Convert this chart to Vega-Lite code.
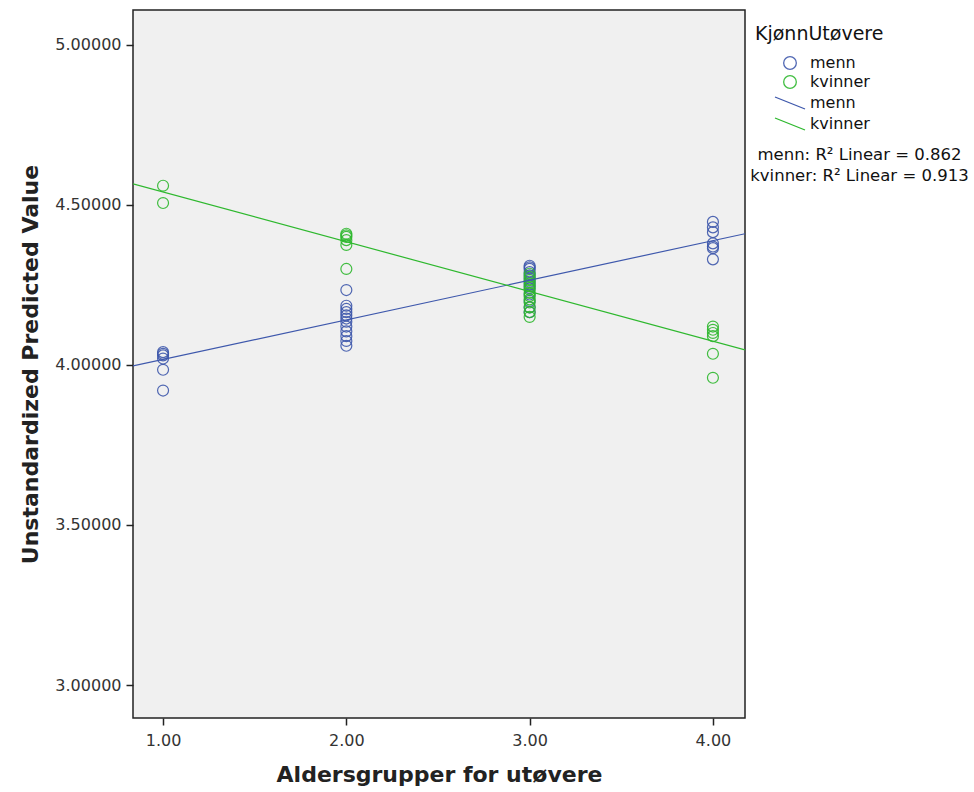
{
  "$schema": "https://vega.github.io/schema/vega-lite/v6.json",
  "width": 612,
  "height": 708,
  "autosize": {"type": "none"},
  "padding": {"left": 133, "top": 10, "right": 229, "bottom": 74},
  "background": "white",
  "config": {
    "font": "DejaVu Sans",
    "view": {"fill": "#F0F0F0", "stroke": "#222222", "strokeWidth": 1.5},
    "axis": {
      "grid": false,
      "domain": false,
      "tickColor": "#222222",
      "tickSize": 7,
      "tickWidth": 1.5,
      "labelColor": "#333333",
      "labelFontSize": 16,
      "labelFont": "DejaVu Sans",
      "titleFont": "DejaVu Sans",
      "titleFontSize": 22,
      "titleFontWeight": "bold",
      "titleColor": "#222222"
    },
    "legend": {
      "labelFont": "DejaVu Sans",
      "titleFont": "DejaVu Sans",
      "labelFontSize": 16,
      "labelColor": "#111111",
      "titleFontSize": 19,
      "titleFontWeight": "normal",
      "titleColor": "#111111"
    }
  },
  "datasets": {
    "points": [
      {"alder": 1, "verdi": 4.040, "kjonn": "menn"},
      {"alder": 1, "verdi": 4.035, "kjonn": "menn"},
      {"alder": 1, "verdi": 4.030, "kjonn": "menn"},
      {"alder": 1, "verdi": 4.020, "kjonn": "menn"},
      {"alder": 1, "verdi": 3.985, "kjonn": "menn"},
      {"alder": 1, "verdi": 3.920, "kjonn": "menn"},
      {"alder": 1, "verdi": 4.560, "kjonn": "kvinner"},
      {"alder": 1, "verdi": 4.506, "kjonn": "kvinner"},
      {"alder": 2, "verdi": 4.234, "kjonn": "menn"},
      {"alder": 2, "verdi": 4.185, "kjonn": "menn"},
      {"alder": 2, "verdi": 4.175, "kjonn": "menn"},
      {"alder": 2, "verdi": 4.165, "kjonn": "menn"},
      {"alder": 2, "verdi": 4.155, "kjonn": "menn"},
      {"alder": 2, "verdi": 4.145, "kjonn": "menn"},
      {"alder": 2, "verdi": 4.135, "kjonn": "menn"},
      {"alder": 2, "verdi": 4.120, "kjonn": "menn"},
      {"alder": 2, "verdi": 4.105, "kjonn": "menn"},
      {"alder": 2, "verdi": 4.090, "kjonn": "menn"},
      {"alder": 2, "verdi": 4.075, "kjonn": "menn"},
      {"alder": 2, "verdi": 4.060, "kjonn": "menn"},
      {"alder": 2, "verdi": 4.410, "kjonn": "kvinner"},
      {"alder": 2, "verdi": 4.405, "kjonn": "kvinner"},
      {"alder": 2, "verdi": 4.400, "kjonn": "kvinner"},
      {"alder": 2, "verdi": 4.390, "kjonn": "kvinner"},
      {"alder": 2, "verdi": 4.375, "kjonn": "kvinner"},
      {"alder": 2, "verdi": 4.300, "kjonn": "kvinner"},
      {"alder": 3, "verdi": 4.310, "kjonn": "menn"},
      {"alder": 3, "verdi": 4.305, "kjonn": "menn"},
      {"alder": 3, "verdi": 4.300, "kjonn": "menn"},
      {"alder": 3, "verdi": 4.290, "kjonn": "menn"},
      {"alder": 3, "verdi": 4.280, "kjonn": "menn"},
      {"alder": 3, "verdi": 4.270, "kjonn": "menn"},
      {"alder": 3, "verdi": 4.260, "kjonn": "menn"},
      {"alder": 3, "verdi": 4.250, "kjonn": "menn"},
      {"alder": 3, "verdi": 4.240, "kjonn": "menn"},
      {"alder": 3, "verdi": 4.220, "kjonn": "menn"},
      {"alder": 3, "verdi": 4.200, "kjonn": "menn"},
      {"alder": 3, "verdi": 4.180, "kjonn": "menn"},
      {"alder": 3, "verdi": 4.165, "kjonn": "menn"},
      {"alder": 3, "verdi": 4.285, "kjonn": "kvinner"},
      {"alder": 3, "verdi": 4.275, "kjonn": "kvinner"},
      {"alder": 3, "verdi": 4.265, "kjonn": "kvinner"},
      {"alder": 3, "verdi": 4.255, "kjonn": "kvinner"},
      {"alder": 3, "verdi": 4.245, "kjonn": "kvinner"},
      {"alder": 3, "verdi": 4.235, "kjonn": "kvinner"},
      {"alder": 3, "verdi": 4.225, "kjonn": "kvinner"},
      {"alder": 3, "verdi": 4.215, "kjonn": "kvinner"},
      {"alder": 3, "verdi": 4.205, "kjonn": "kvinner"},
      {"alder": 3, "verdi": 4.195, "kjonn": "kvinner"},
      {"alder": 3, "verdi": 4.180, "kjonn": "kvinner"},
      {"alder": 3, "verdi": 4.165, "kjonn": "kvinner"},
      {"alder": 3, "verdi": 4.150, "kjonn": "kvinner"},
      {"alder": 4, "verdi": 4.447, "kjonn": "menn"},
      {"alder": 4, "verdi": 4.430, "kjonn": "menn"},
      {"alder": 4, "verdi": 4.415, "kjonn": "menn"},
      {"alder": 4, "verdi": 4.380, "kjonn": "menn"},
      {"alder": 4, "verdi": 4.370, "kjonn": "menn"},
      {"alder": 4, "verdi": 4.365, "kjonn": "menn"},
      {"alder": 4, "verdi": 4.330, "kjonn": "menn"},
      {"alder": 4, "verdi": 4.120, "kjonn": "kvinner"},
      {"alder": 4, "verdi": 4.110, "kjonn": "kvinner"},
      {"alder": 4, "verdi": 4.100, "kjonn": "kvinner"},
      {"alder": 4, "verdi": 4.090, "kjonn": "kvinner"},
      {"alder": 4, "verdi": 4.035, "kjonn": "kvinner"},
      {"alder": 4, "verdi": 3.960, "kjonn": "kvinner"}
    ],
    "lines": [
      {"alder": 0.836, "verdi": 3.997, "linje": "menn_linje", "fit": "menn: R² Linear = 0.862"},
      {"alder": 4.175, "verdi": 4.410, "linje": "menn_linje", "fit": "menn: R² Linear = 0.862"},
      {"alder": 0.836, "verdi": 4.566, "linje": "kvinner_linje", "fit": "kvinner: R² Linear = 0.913"},
      {"alder": 4.175, "verdi": 4.047, "linje": "kvinner_linje", "fit": "kvinner: R² Linear = 0.913"}
    ]
  },
  "encoding": {
    "x": {
      "field": "alder",
      "type": "quantitative",
      "title": "Aldersgrupper for utøvere",
      "scale": {"domain": [0.836, 4.175], "nice": false, "zero": false},
      "axis": {"values": [1, 2, 3, 4], "format": ".2f", "labelPadding": 7, "titlePadding": 16}
    },
    "y": {
      "field": "verdi",
      "type": "quantitative",
      "title": "Unstandardized Predicted Value",
      "scale": {"domain": [2.897, 5.109], "nice": false, "zero": false},
      "axis": {"values": [3, 3.5, 4, 4.5, 5], "format": ".5f", "labelPadding": 5, "titlePadding": 12}
    }
  },
  "layer": [
    {
      "data": {"name": "points"},
      "mark": {"type": "point", "shape": "circle", "filled": false, "size": 120, "strokeWidth": 1.2, "opacity": 0.9},
      "encoding": {
        "color": {
          "field": "kjonn",
          "type": "nominal",
          "scale": {"domain": ["menn", "kvinner"], "range": ["#3E58AC", "#2EB82E"]},
          "legend": {
            "title": "KjønnUtøvere",
            "orient": "none",
            "legendX": 622,
            "legendY": 15,
            "symbolOffset": 27,
            "symbolSize": 160,
            "symbolStrokeWidth": 1.3,
            "labelOffset": 12,
            "padding": 0,
            "rowPadding": 1,
            "titlePadding": 11
          }
        }
      }
    },
    {
      "data": {"name": "lines"},
      "mark": {"type": "line", "strokeWidth": 1.2, "clip": true},
      "encoding": {
        "stroke": {
          "field": "linje",
          "type": "nominal",
          "scale": {"domain": ["menn_linje", "kvinner_linje"], "range": ["#3E58AC", "#2EB82E"]},
          "legend": {
            "title": null,
            "orient": "none",
            "legendX": 646,
            "legendY": 82,
            "symbolType": "M-1.5,-0.6L1.5,0.6",
            "symbolSize": 400,
            "symbolStrokeWidth": 1.2,
            "labelExpr": "replace(datum.label, '_linje', '')",
            "labelOffset": 9,
            "padding": 0,
            "rowPadding": 1
          }
        },
        "opacity": {
          "field": "fit",
          "type": "nominal",
          "scale": {"domain": ["menn: R² Linear = 0.862", "kvinner: R² Linear = 0.913"], "range": [1, 1]},
          "legend": {
            "title": null,
            "orient": "none",
            "legendX": 710,
            "legendY": 137,
            "symbolSize": 0,
            "symbolOpacity": 0,
            "labelAlign": "center",
            "labelOffset": 0,
            "labelLimit": 400,
            "labelFontSize": 16.5,
            "padding": 0,
            "rowPadding": 4
          }
        }
      }
    }
  ]
}
